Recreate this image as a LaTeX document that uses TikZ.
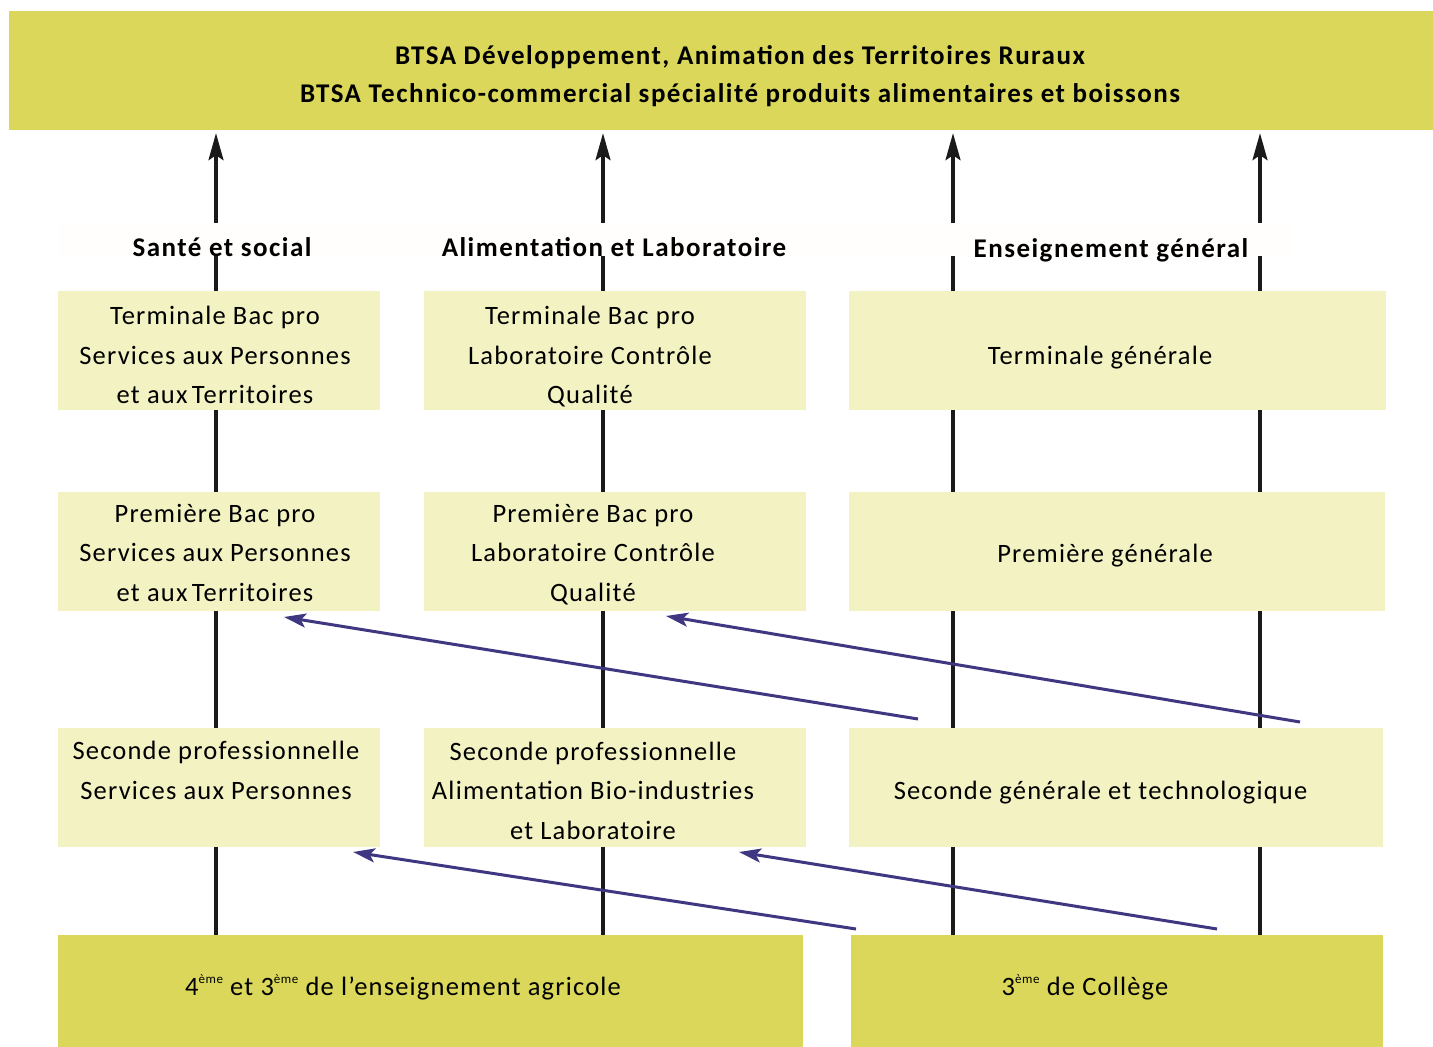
\documentclass[tikz,border=0pt]{standalone}
\usepackage{fontspec}
\setmainfont{Carlito}[LetterSpace=4.5]
\newfontfamily\headfont{Carlito}[LetterSpace=5.5]
\usetikzlibrary{arrows.meta,calc}
\definecolor{darky}{RGB}{218,215,90}
\definecolor{lighty}{RGB}{242,242,194}
\definecolor{navy}{RGB}{63,55,130}
\definecolor{ink}{RGB}{26,26,26}
\newcommand{\supx}[1]{\raisebox{0.45em}{\fontsize{13}{13}\selectfont #1}}
\begin{document}
\begin{tikzpicture}[x=1pt,y=-1pt,
  lbox/.style={fill=lighty, draw=none, inner sep=0pt, minimum height=119pt},
  dbox/.style={fill=darky, draw=none, inner sep=0pt},
  txt/.style={inner sep=0pt, align=center, font=\fontsize{26.5}{39.5}\selectfont},
  btxt/.style={inner sep=0pt, align=center, font=\headfont\bfseries\fontsize{27}{38}\selectfont},
  vline/.style={draw=ink, line width=3.2pt},
  uparrow/.style={draw=ink, line width=3.2pt, -{Stealth[length=27pt,width=15pt,inset=5pt]}},
  bluearrow/.style={draw=navy, line width=3pt, -{Stealth[length=22pt,width=14pt,inset=5pt]}}]
\useasboundingbox (0,0) rectangle (1433,1047);
\fill[white] (0,0) rectangle (1433,1047);

% column x positions
\coordinate (c1) at (216,0);
\coordinate (c2) at (603,0);
\coordinate (c3) at (953,0);
\coordinate (c4) at (1260,0);

% top box
\node[dbox, minimum width=1424pt, minimum height=119pt] (top) at (721,70.5) {};
\node[btxt] (toptext) at (740,76.5)
  {BTSA Développement, Animation des Territoires Ruraux\\BTSA Technico-commercial spécialité produits alimentaires et boissons};

% label band
\node[fill={rgb,255:red,255;green,254;blue,252}, inner sep=0pt, minimum width=1234pt, minimum height=33pt] (band) at (675,239.5) {};
\node[btxt] (h1) at (222,247) {Santé et social};
\node[btxt] (h2) at (614,247) {Alimentation et Laboratoire};
\node[btxt] (h3) at (1111,250) {Enseignement général};

% row 1
\node[lbox, minimum width=322pt] (t1) at (219,350.5) {};
\node[lbox, minimum width=382pt] (t2) at (615,350.5) {};
\node[lbox, minimum width=537pt] (t3) at (1117.5,350.5) {};
\node[txt] (t1t) at (215,355) {Terminale Bac pro\\Services aux Personnes\\et aux\,Territoires};
\node[txt] (t2t) at (590,357) {Terminale Bac pro\\Laboratoire Contrôle\\Qualité};
\node[txt] (t3t) at (1100,358) {Terminale générale};

% row 2
\node[lbox, minimum width=322pt] (p1) at (219,551.5) {};
\node[lbox, minimum width=382pt] (p2) at (615,551.5) {};
\node[lbox, minimum width=536pt] (p3) at (1117,551.5) {};
\node[txt] (p1t) at (215,552.5) {Première Bac pro\\Services aux Personnes\\et aux\,Territoires};
\node[txt] (p2t) at (593,554.5) {Première Bac pro\\Laboratoire Contrôle\\Qualité};
\node[txt] (p3t) at (1105,555.5) {Première générale};

% row 3
\node[lbox, minimum width=322pt] (s1) at (219,787.5) {};
\node[lbox, minimum width=382pt] (s2) at (615,787.5) {};
\node[lbox, minimum width=534pt] (s3) at (1116,787.5) {};
\node[txt, anchor=north] (s1t) at (216,741) {Seconde professionnelle\\Services aux Personnes};
\node[txt] (s2t) at (593,790.5) {Seconde professionnelle\\Alimentation Bio-industries\\et Laboratoire};
\node[txt] (s3t) at (1100.5,793) {Seconde générale et technologique};

% bottom
\node[dbox, minimum width=745pt, minimum height=112pt] (b1) at (430.5,991) {};
\node[dbox, minimum width=532pt, minimum height=112pt] (b2) at (1117,991) {};
\node[txt] (b1t) at (403,987) {4\supx{ème} et 3\supx{ème} de l’enseignement agricole};
\node[txt] (b2t) at (1085,987) {3\supx{ème} de Collège};

% arrows to top
\foreach \c in {c1,c2,c3,c4}{
  \draw[uparrow] (band.north -| \c) -- ([yshift=-3pt]top.south -| \c);
}
% lines below band
\draw[vline] (band.south -| c1) -- (t1.north -| c1);
\draw[vline] (band.south -| c2) -- (t2.north -| c2);
\draw[vline] (band.south -| c3) -- (t3.north -| c3);
\draw[vline] (band.south -| c4) -- (t3.north -| c4);
% between rows
\draw[vline] (t1.south -| c1) -- (p1.north -| c1);
\draw[vline] (t2.south -| c2) -- (p2.north -| c2);
\draw[vline] (t3.south -| c3) -- (p3.north -| c3);
\draw[vline] (t3.south -| c4) -- (p3.north -| c4);
\draw[vline] (p1.south -| c1) -- (s1.north -| c1);
\draw[vline] (p2.south -| c2) -- (s2.north -| c2);
\draw[vline] (p3.south -| c3) -- (s3.north -| c3);
\draw[vline] (p3.south -| c4) -- (s3.north -| c4);
\draw[vline] (s1.south -| c1) -- (b1.north -| c1);
\draw[vline] (s2.south -| c2) -- (b1.north -| c2);
\draw[vline] (s3.south -| c3) -- (b2.north -| c3);
\draw[vline] (s3.south -| c4) -- (b2.north -| c4);

% blue arrows
\coordinate (a1s) at (918,719);
\coordinate (a1e) at (284,617);
\coordinate (a2s) at (1300,722);
\coordinate (a2e) at (666,616);
\coordinate (a3s) at (856,929);
\coordinate (a3e) at (353,852);
\coordinate (a4s) at (1217,929);
\coordinate (a4e) at (739,852);
\draw[bluearrow] (a1s) -- (a1e);
\draw[bluearrow] (a2s) -- (a2e);
\draw[bluearrow] (a3s) -- (a3e);
\draw[bluearrow] (a4s) -- (a4e);
\end{tikzpicture}
\end{document}
